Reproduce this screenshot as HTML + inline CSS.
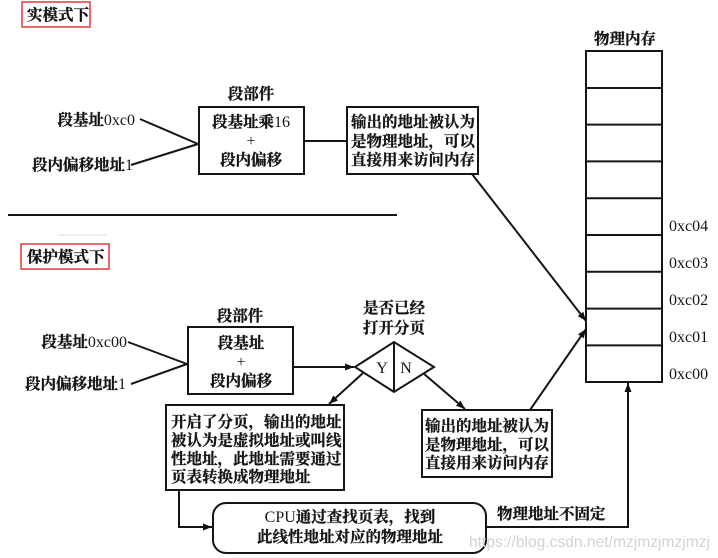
<!DOCTYPE html>
<html><head><meta charset="utf-8"><style>
html,body{margin:0;padding:0;background:#fff;}
svg{display:block;}
.c{font-family:"Liberation Serif","Noto Serif CJK SC",serif;font-weight:700;font-size:15.5px;fill:#151515;stroke:#151515;stroke-width:0.3px;}
.l{font-family:"Liberation Serif",serif;font-weight:400;font-size:16px;fill:#151515;stroke:none;}
</style></head><body>
<svg width="718" height="558" viewBox="0 0 718 558" xmlns="http://www.w3.org/2000/svg">
<defs>
<marker id="a" markerUnits="userSpaceOnUse" markerWidth="10" markerHeight="8" refX="9" refY="4" orient="auto">
<path d="M0,0.5 L9,4 L0,7.5 Z" fill="#111"/>
</marker>
</defs>
<g stroke="#151515" stroke-width="2" fill="none">
<rect x="22" y="2" width="68" height="25" stroke="#e0393b" stroke-width="1.5"/>
<rect x="21" y="244" width="88" height="25" stroke="#e0393b" stroke-width="1.5"/>
<line x1="8" y1="215" x2="397" y2="215"/>
<line x1="58" y1="235" x2="107" y2="235" stroke="#ddd" stroke-width="1"/>
<line x1="140" y1="119" x2="198" y2="144"/>
<line x1="131" y1="165" x2="198" y2="144"/>
<rect x="199" y="107" width="105" height="67"/>
<line x1="304" y1="141" x2="347" y2="141"/>
<rect x="347" y="107" width="131" height="67"/>
<line x1="472" y1="174" x2="586" y2="321" marker-end="url(#a)"/>
<rect x="586" y="51" width="76" height="331"/>
<line x1="586" y1="88" x2="662" y2="88"/>
<line x1="586" y1="124.6" x2="662" y2="124.6"/>
<line x1="586" y1="161.4" x2="662" y2="161.4"/>
<line x1="586" y1="198.2" x2="662" y2="198.2"/>
<line x1="586" y1="235" x2="662" y2="235"/>
<line x1="586" y1="271.8" x2="662" y2="271.8"/>
<line x1="586" y1="308.6" x2="662" y2="308.6"/>
<line x1="586" y1="345.4" x2="662" y2="345.4"/>
<line x1="128" y1="342" x2="187" y2="364"/>
<line x1="131" y1="384" x2="187" y2="364"/>
<rect x="188" y="327" width="105" height="67"/>
<line x1="293" y1="367" x2="354" y2="367" marker-end="url(#a)"/>
<path d="M355,367 L394,342 L434,367 L394,392 Z"/>
<line x1="394" y1="342" x2="394" y2="392"/>
<line x1="363" y1="373" x2="329" y2="404" marker-end="url(#a)"/>
<line x1="423" y1="373" x2="465" y2="409" marker-end="url(#a)"/>
<rect x="166" y="405" width="178" height="85"/>
<rect x="422" y="410" width="130" height="67"/>
<line x1="530" y1="410" x2="586" y2="329" marker-end="url(#a)"/>
<path d="M179,490 L179,527 L212,527" marker-end="url(#a)"/>
<rect x="213" y="503" width="273" height="50" rx="13" ry="13"/>
<path d="M486,527 L628,527 L628,383" marker-end="url(#a)"/>
</g>
<text class="c" x="27" y="20">实模式下</text>
<text class="c" x="27" y="262">保护模式下</text>
<text class="c" x="251" y="99" text-anchor="middle">段部件</text>
<text class="c" x="251" y="127" text-anchor="middle">段基址乘<tspan class="l">16</tspan></text>
<text class="l" x="251" y="146" text-anchor="middle">+</text>
<text class="c" x="251" y="165" text-anchor="middle">段内偏移</text>
<text class="c" x="135" y="125" text-anchor="end">段基址<tspan class="l">0xc0</tspan></text>
<text class="c" x="133" y="170" text-anchor="end">段内偏移地址<tspan class="l">1</tspan></text>
<text class="c" x="351" y="127">输出的地址被认为</text>
<text class="c" x="351" y="146.5">是物理地址，可以</text>
<text class="c" x="351" y="165">直接用来访问内存</text>
<text class="c" x="625" y="44" text-anchor="middle">物理内存</text>
<text class="l" x="669" y="231">0xc04</text>
<text class="l" x="669" y="268">0xc03</text>
<text class="l" x="669" y="305">0xc02</text>
<text class="l" x="669" y="342">0xc01</text>
<text class="l" x="669" y="379">0xc00</text>
<text class="c" x="240" y="321" text-anchor="middle">段部件</text>
<text class="c" x="241" y="348" text-anchor="middle">段基址</text>
<text class="l" x="241" y="367" text-anchor="middle">+</text>
<text class="c" x="241" y="386" text-anchor="middle">段内偏移</text>
<text class="c" x="127" y="347" text-anchor="end">段基址<tspan class="l">0xc00</tspan></text>
<text class="c" x="126" y="389" text-anchor="end">段内偏移地址<tspan class="l">1</tspan></text>
<text class="c" x="394" y="313" text-anchor="middle">是否已经</text>
<text class="c" x="394" y="333" text-anchor="middle">打开分页</text>
<text class="l" x="382" y="373" text-anchor="middle">Y</text>
<text class="l" x="406" y="373" text-anchor="middle">N</text>
<text class="c" x="171" y="427">开启了分页，输出的地址</text>
<text class="c" x="171" y="445.5">被认为是虚拟地址或叫线</text>
<text class="c" x="171" y="464">性地址，此地址需要通过</text>
<text class="c" x="171" y="482">页表转换成物理地址</text>
<text class="c" x="425" y="431">输出的地址被认为</text>
<text class="c" x="425" y="450">是物理地址，可以</text>
<text class="c" x="425" y="468">直接用来访问内存</text>
<text class="c" x="350" y="522" text-anchor="middle"><tspan class="l">CPU</tspan>通过查找页表，找到</text>
<text class="c" x="350" y="542" text-anchor="middle">此线性地址对应的物理地址</text>
<text class="c" x="497" y="519">物理地址不固定</text>
<text x="469" y="547" font-family="Liberation Sans, sans-serif" font-size="16" fill="#d2d2d2" textLength="241" lengthAdjust="spacingAndGlyphs">https://blog.csdn.net/mzjmzjmzjmzj</text>
</svg>
</body></html>
